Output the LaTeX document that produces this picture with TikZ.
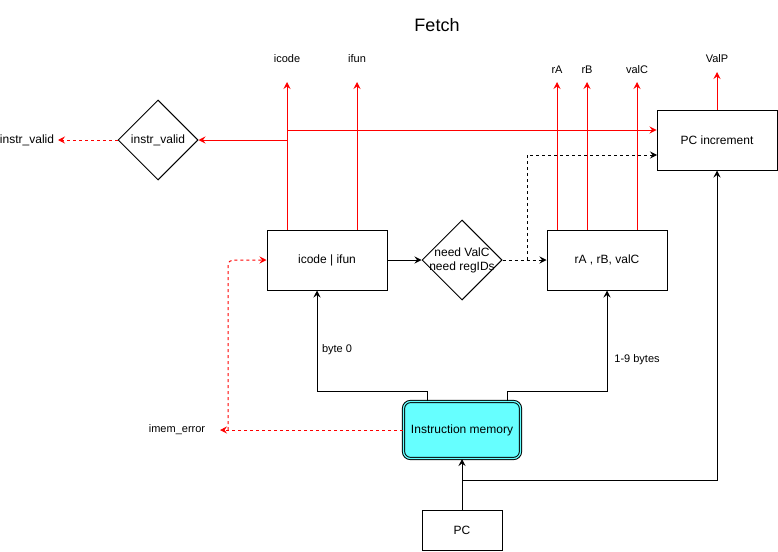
\documentclass[tikz,border=0pt]{standalone}
\usepackage{fontspec}
\setmainfont{Liberation Sans}
\usetikzlibrary{arrows.meta,shapes.geometric}
\definecolor{memcyan}{HTML}{66FFFF}
\begin{document}
\begin{tikzpicture}[x=1pt,y=-1pt,line width=1pt,
  >={Stealth[length=7pt,width=7pt,inset=2.5pt]},
  box/.style={draw,rectangle,minimum width=120pt,minimum height=60pt,inner sep=0pt,font=\fontsize{12}{14}\selectfont},
  dia/.style={draw,diamond,aspect=1,minimum width=80pt,minimum height=80pt,inner sep=0pt},
  txt/.style={font=\fontsize{12}{14}\selectfont,align=center,inner sep=0pt},
  lbl/.style={font=\fontsize{11}{13}\selectfont,inner sep=0pt},
  redln/.style={draw=red,->},
  reddash/.style={draw=red,->,dash pattern=on 3pt off 3pt},
  blkdash/.style={->,dash pattern=on 3pt off 3pt}]
\useasboundingbox (0,0) rectangle (778,551);
\node[font=\fontsize{18}{22}\selectfont] (title) at (437,25) {Fetch};
% shapes
\node[dia] (iv) at (158,140) {};
\node[txt] (ivt) at (iv) {instr\_valid};
\node[txt] (ivout) at (27,140) {instr\_valid};
\node[box] (ic) at (327,260) {icode | ifun};
\node[dia] (need) at (462,260) {};
\node[txt] (needt) at (need) {need ValC\\need regIDs};
\node[box] (rr) at (607,260) {rA , rB, valC};
\node[box] (pci) at (717,140) {PC increment};
\node[box,minimum width=80pt,minimum height=40pt] (pc) at (462,530) {PC};
\node[box,minimum width=117pt,minimum height=57pt,rounded corners=7pt,fill=memcyan,double=memcyan,double distance=1.2pt] (im) at (462,430) {Instruction memory};
% labels
\node[lbl] (icl) at (287,59) {icode};
\node[lbl] (ifl) at (357,59) {ifun};
\node[lbl] (ral) at (557,70) {rA};
\node[lbl] (rbl) at (587,70) {rB};
\node[lbl] (vcl) at (637,70) {valC};
\node[lbl] (vpl) at (717,59) {ValP};
\node[lbl] (b0) at (337,350) {byte 0};
\node[lbl] (b19) at (637,360) {1-9 bytes};
\node[lbl] (ime) at (177,430) {imem\_error};
% tips and junctions
\coordinate (icTip) at (287,82);
\coordinate (ifTip) at (357,82);
\coordinate (raTip) at (557,82);
\coordinate (rbTip) at (587,82);
\coordinate (vcTip) at (637,82);
\coordinate (vpTip) at (717,72);
\coordinate (j1) at (287,140);
\coordinate (j2) at (287,130);
\coordinate (j3) at (527,260);
\coordinate (pciIn) at (657,155);
\coordinate (j4) at (462,480);
\coordinate (j5) at (228,430);
\coordinate (imeTip) at (220,430);
\coordinate (ivTip) at (58,140);
% red outputs
\draw[redln] (icTip |- ic.north) -- (icTip);
\draw[redln] (ifTip |- ic.north) -- (ifTip);
\draw[redln] (raTip |- rr.north) -- (raTip);
\draw[redln] (rbTip |- rr.north) -- (rbTip);
\draw[redln] (vcTip |- rr.north) -- (vcTip);
\draw[redln] (vpTip |- pci.north) -- (vpTip);
\draw[redln] (j1) -- (iv.east);
\draw[redln] (j2) -- (j2 -| pci.west);
\draw[reddash] (iv.west) -- (ivTip);
% black connectors
\draw[->] (ic.east) -- (need.west);
\draw[blkdash] (need.east) -- (rr.west);
\draw[blkdash] (j3) |- (pciIn);
\draw[->] ([xshift=-35pt]im.north) -- ++(0,-10) -| ([xshift=-10pt]ic.south);
\draw[->] ([xshift=45pt]im.north) -- ++(0,-10) -| (rr.south);
\draw[->] (pc.north) -- (im.south);
\draw[->] (j4) -| (pci.south);
% imem_error
\draw[reddash] (im.west) -- (imeTip);
\draw[reddash,rounded corners=5pt] (j5) |- (ic.west);
\end{tikzpicture}
\end{document}
